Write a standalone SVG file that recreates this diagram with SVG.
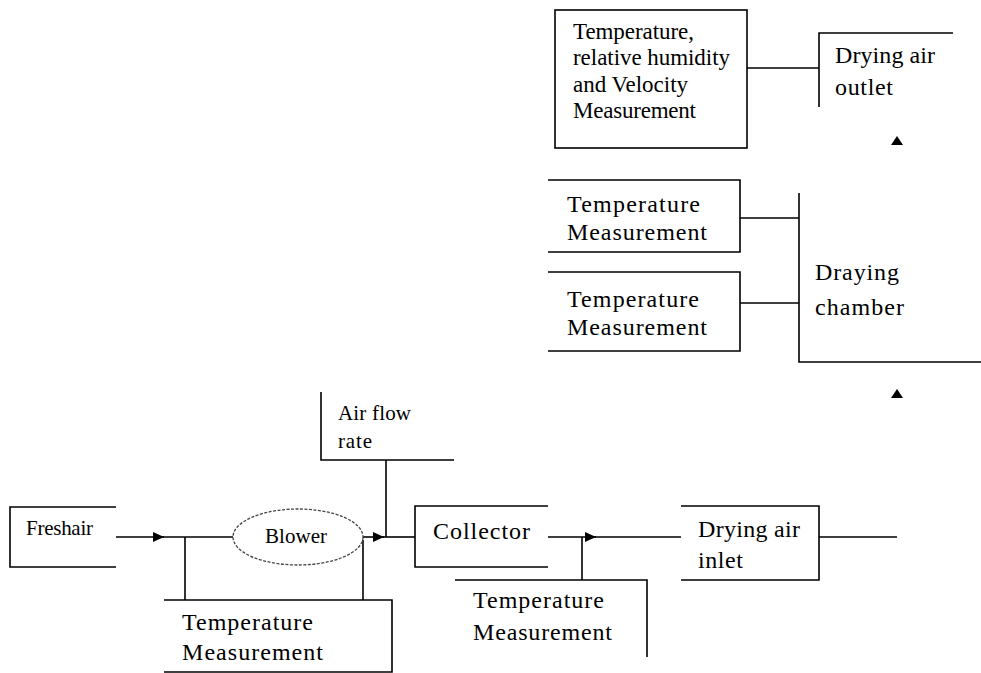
<svg xmlns="http://www.w3.org/2000/svg" width="981" height="673" viewBox="0 0 981 673">
<style>
  .ln{fill:none;stroke:#000;stroke-width:1.6}
  .t{font-family:"Liberation Serif","Times New Roman",serif;fill:#000;font-size:24px}
  .m{font-size:23px}
  .s{font-size:21px}
</style>
<defs>
  <marker id="arr" markerUnits="userSpaceOnUse" markerWidth="12" markerHeight="10" refX="11" refY="5" orient="auto">
    <path d="M0,0 L11,5 L0,10 z" fill="#000"/>
  </marker>
</defs>
<rect width="981" height="673" fill="#fff"/>
<g id="connectors">
  <path class="ln" d="M747 68 H819"/>
  <path class="ln" d="M740 218 H799"/>
  <path class="ln" d="M740 303 H799"/>
  <path class="ln" d="M116 537 H164" marker-end="url(#arr)"/>
  <path class="ln" d="M163 537 H233"/>
  <path class="ln" d="M185 537 V600"/>
  <path class="ln" d="M363 540 V600"/>
  <path class="ln" d="M363 537 H384" marker-end="url(#arr)"/>
  <path class="ln" d="M383 537 H415"/>
  <path class="ln" d="M386 460 V537"/>
  <path class="ln" d="M548 537 H596" marker-end="url(#arr)"/>
  <path class="ln" d="M595 537 H681"/>
  <path class="ln" d="M582 537 V580"/>
  <path class="ln" d="M819 537 H897"/>
  <polygon points="891,145 903,145 897,136" fill="#000"/>
  <polygon points="891,398 903,398 897,389" fill="#000"/>
</g>
<g id="tempRHV">
  <rect class="ln" x="555" y="10" width="192" height="138"/>
  <text class="t m" x="573" y="39" textLength="121">Temperature,</text>
  <text class="t m" x="573" y="65" textLength="157">relative humidity</text>
  <text class="t m" x="573" y="92" textLength="115">and Velocity</text>
  <text class="t m" x="573" y="118" textLength="123">Measurement</text>
</g>
<g id="outlet">
  <path class="ln" d="M953 33 H819 V107"/>
  <text class="t" x="835" y="63" textLength="100">Drying air</text>
  <text class="t" x="835" y="95" textLength="58">outlet</text>
</g>
<g id="temp1">
  <path class="ln" d="M548 180 H740 V252 H548"/>
  <text class="t" x="567" y="212" textLength="133">Temperature</text>
  <text class="t" x="567" y="240" textLength="140">Measurement</text>
</g>
<g id="temp2">
  <path class="ln" d="M548 272 H740 V351 H548"/>
  <text class="t" x="567" y="307" textLength="132">Temperature</text>
  <text class="t" x="567" y="335" textLength="140">Measurement</text>
</g>
<g id="chamber">
  <path class="ln" d="M799 193 V362 H981"/>
  <text class="t" x="815" y="280" textLength="84">Draying</text>
  <text class="t" x="815" y="315" textLength="89">chamber</text>
</g>
<g id="freshair">
  <path class="ln" d="M116 507 H10 V567 H116"/>
  <text class="t s" x="26" y="535" textLength="67">Freshair</text>
</g>
<g id="blower">
  <ellipse cx="298" cy="537" rx="65" ry="28" fill="none" stroke="#444" stroke-width="1.3" stroke-dasharray="3 1.5"/>
  <text class="t s" x="265" y="543" textLength="62">Blower</text>
</g>
<g id="tempBlower">
  <path class="ln" d="M164 600 H392 V672 H164"/>
  <text class="t" x="182" y="630" textLength="131">Temperature</text>
  <text class="t" x="182" y="660" textLength="141">Measurement</text>
</g>
<g id="airflow">
  <path class="ln" d="M321 392 V460 H454"/>
  <text class="t s" x="338" y="420" textLength="73">Air flow</text>
  <text class="t s" x="338" y="448" textLength="34">rate</text>
</g>
<g id="collector">
  <path class="ln" d="M548 506 H415 V567 H548"/>
  <text class="t" x="433" y="539" textLength="97">Collector</text>
</g>
<g id="tempCollector">
  <path class="ln" d="M455 580 H647 V657"/>
  <text class="t" x="473" y="608" textLength="131">Temperature</text>
  <text class="t" x="473" y="640" textLength="139">Measurement</text>
</g>
<g id="inlet">
  <path class="ln" d="M681 506 H819 V580 H681"/>
  <text class="t" x="698" y="537" textLength="102">Drying air</text>
  <text class="t" x="698" y="568" textLength="45">inlet</text>
</g>
</svg>
